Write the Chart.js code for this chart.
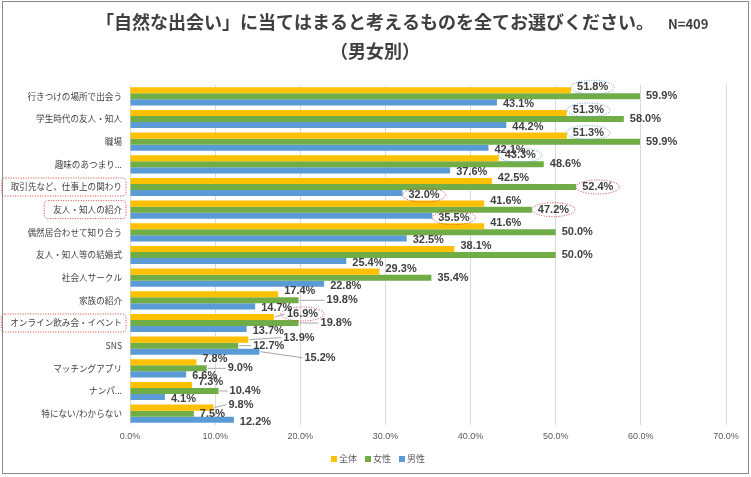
<!DOCTYPE html>
<html><head><meta charset="utf-8">
<script src="https://cdn.jsdelivr.net/npm/chart.js@4"></script>
<style>html,body{margin:0;padding:0;background:#fff;}#wrap{position:relative;width:751px;height:477px;}</style>
</head><body><div id="wrap"><canvas id="c" width="751" height="477"></canvas></div>
<script>
const categories = ['行きつけの場所で出会う','学生時代の友人・知人','職場','趣味のあつまり...','取引先など、仕事上の関わり','友人・知人の紹介','偶然居合わせて知り合う','友人・知人等の結婚式','社会人サークル','家族の紹介','オンライン飲み会・イベント','SNS','マッチングアプリ','ナンパ...','特にない/わからない'];
const seriesNames = ['全体','女性','男性'];
const valuesAll    = [51.8,51.3,51.3,43.3,42.5,41.6,41.6,38.1,29.3,17.4,16.9,13.9,7.8,7.3,9.8];
const valuesFemale = [59.9,58.0,59.9,48.6,52.4,47.2,50.0,50.0,35.4,19.8,19.8,12.7,9.0,10.4,7.5];
const valuesMale   = [43.1,44.2,42.1,37.6,32.0,35.5,32.5,25.4,22.8,14.7,13.7,15.2,6.6,4.1,12.2];
const xTicks = [0,10,20,30,40,50,60,70];
const titleLine1 = '「自然な出会い」に当てはまると考えるものを全てお選びください。';
const titleLine2 = '（男女別）';
const sampleNote = 'N=409';

const colors = ['#FFC000','#70AD47','#5B9BD5'];
const labelFont = 'bold 11px "Liberation Sans", Arial, sans-serif';
const catFont = '8.6px "Noto Sans CJK JP", sans-serif';
const labelStyle = {dx:6, dy:[-3,0,2]};
const labelShift = {'9-1':[22,0],'10-0':[7,0],'10-1':[16,0],'11-0':[29,1],'11-1':[9,0],'11-2':[39,4],'12-1':[15,0],'13-1':[5,0],'14-0':[9,0]};
const ellipseMarks = [
  {r:0,d:0,c:'#5B9BD5'},{r:1,d:0,c:'#5B9BD5'},{r:2,d:0,c:'#5B9BD5'},{r:3,d:0,c:'#5B9BD5'},
  {r:4,d:1,c:'#d04040'},{r:4,d:2,c:'#d04040'},{r:5,d:1,c:'#d04040'},{r:5,d:2,c:'#d04040'},{r:10,d:0,c:'#d04040'}
];
const boxedCats = [4,5,10];

function roundRect(c,x,y,w,h,r){c.beginPath();c.moveTo(x+r,y);c.lineTo(x+w-r,y);c.quadraticCurveTo(x+w,y,x+w,y+r);c.lineTo(x+w,y+h-r);c.quadraticCurveTo(x+w,y+h,x+w-r,y+h);c.lineTo(x+r,y+h);c.quadraticCurveTo(x,y+h,x,y+h-r);c.lineTo(x,y+r);c.quadraticCurveTo(x,y,x+r,y);c.closePath();}

const decor = {
  id:'decor',
  beforeDraw(chart){const c=chart.ctx;c.save();c.fillStyle='#fff';c.fillRect(0,0,chart.width,chart.height);c.restore();},
  afterDatasetsDraw(chart){
    const c = chart.ctx;
    c.save();
    c.font = labelFont; c.textBaseline='middle'; c.textAlign='left';
    chart.data.datasets.forEach((ds,d)=>{
      const meta = chart.getDatasetMeta(d);
      meta.data.forEach((bar,i)=>{
        const sh = labelShift[i+'-'+d] || [0,0];
        const x = bar.x + labelStyle.dx + sh[0];
        const y = bar.y + labelStyle.dy[d] + sh[1];
        if (sh[0] >= 5){c.strokeStyle='#a6a6a6';c.lineWidth=1;c.setLineDash([]);c.beginPath();c.moveTo(bar.x+1,bar.y);c.lineTo(x-2,y);c.stroke();}
        const txt = ds.data[i].toFixed(1)+'%';
        c.fillStyle='#404040'; c.fillText(txt,x,y);
        const em = ellipseMarks.find(e=>e.r===i&&e.d===d);
        if (em){
          const w=c.measureText(txt).width;
          c.strokeStyle=em.c;c.lineWidth=1;c.setLineDash([1,1.5]);
          c.beginPath();c.ellipse(x+w/2,y,w/2+6,7,0,0,Math.PI*2);c.stroke();
          c.setLineDash([]);
        }
      });
    });
    c.restore();
  },
  afterDraw(chart){
    const c = chart.ctx;
    c.save();
    c.fillStyle='#404040';c.textBaseline='middle';c.textAlign='center';
    c.font='bold 18px "Noto Sans CJK JP", sans-serif';
    c.fillText(titleLine1,375,22);
    c.fillText(titleLine2,375,51);
    c.textAlign='left';c.font='bold 13px "Noto Sans CJK JP", sans-serif';
    c.fillText(sampleNote,668,24);
    const ys = chart.scales.y;
    c.font=catFont;
    boxedCats.forEach(i=>{
      const w=c.measureText(categories[i]).width;
      const yc=ys.getPixelForValue(i);
      c.strokeStyle='#d04040';c.lineWidth=1;c.setLineDash([1,1.5]);
      roundRect(c,ys.right-8-w-9,yc-9,w+13,18,4);c.stroke();
    });
    c.setLineDash([]);
    c.font='9px "Noto Sans CJK JP", sans-serif';
    const widths = seriesNames.map(n=>c.measureText(n).width);
    const total = widths.reduce((a,b)=>a+b,0)+seriesNames.length*8+(seriesNames.length-1)*8;
    let lx = 378-total/2; const ly=459;
    seriesNames.forEach((n,k)=>{
      c.fillStyle=colors[k];c.fillRect(lx,ly-3,6,6);
      c.fillStyle='#595959';c.textAlign='left';c.fillText(n,lx+8,ly);
      lx += 8+widths[k]+8;
    });
    c.strokeStyle='#8a8a8a';c.lineWidth=1;c.strokeRect(2.5,1.5,746,472);
    c.restore();
  }
};

new Chart(document.getElementById('c'),{
  type:'bar',
  data:{labels:categories,datasets:[
    {label:seriesNames[0],data:valuesAll,backgroundColor:colors[0]},
    {label:seriesNames[1],data:valuesFemale,backgroundColor:colors[1]},
    {label:seriesNames[2],data:valuesMale,backgroundColor:colors[2]}
  ]},
  options:{
    indexAxis:'y',responsive:false,animation:false,devicePixelRatio:1,
    barPercentage:1,categoryPercentage:0.8,
    layout:{padding:{left:0,right:25,top:85,bottom:32}},
    plugins:{legend:{display:false},tooltip:{enabled:false},title:{display:false}},
    scales:{
      x:{min:0,max:70,afterBuildTicks:s=>{s.ticks=xTicks.map(v=>({value:v}));},
        afterFit:s=>{s.height=20;},
        grid:{color:'#d9d9d9',drawTicks:false},border:{display:false},
        ticks:{padding:6,color:'#595959',font:{family:'"Liberation Sans Narrow","Liberation Sans",sans-serif',size:9},callback:v=>Number(v).toFixed(1)+'%'}},
      y:{afterFit:s=>{s.width=130;},grid:{display:false,drawTicks:false},border:{display:false},
        ticks:{padding:8,color:'#404040',font:{family:'"Noto Sans CJK JP",sans-serif',size:8.6}}}
    }
  },
  plugins:[decor]
});
</script></body></html>
